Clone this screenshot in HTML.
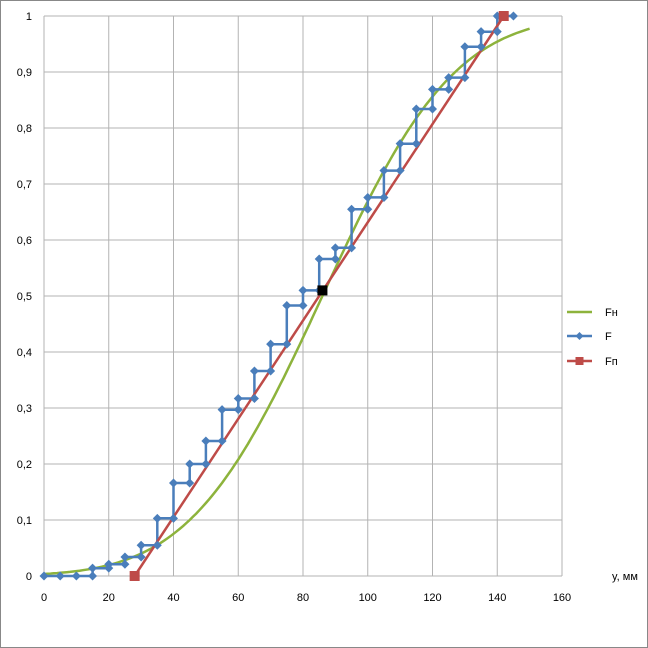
<!DOCTYPE html>
<html><head><meta charset="utf-8"><style>
html,body{margin:0;padding:0;background:#fff}
svg{display:block;font-family:"Liberation Sans",sans-serif}
</style></head><body>
<svg id="s" width="648" height="648" viewBox="0 0 648 648" xmlns="http://www.w3.org/2000/svg">
<rect x="0.5" y="0.5" width="647" height="647" fill="#fff" stroke="#888"/>
<g id="grid" stroke="#b3b3b3" stroke-width="1"></g>
<g id="lab" font-size="11" fill="#000"></g>
<text x="612" y="580" font-size="11">y, мм</text>
<g id="ser"></g>
<g font-size="11">
<line x1="567" y1="312" x2="592" y2="312" stroke="#8db33c" stroke-width="2.5"/>
<text x="605" y="316">Fн</text>
<line x1="567" y1="336" x2="592" y2="336" stroke="#4a7ebb" stroke-width="2.5"/>
<path d="M579.5 332 L583.5 336 L579.5 340 L575.5 336Z" fill="#4a7ebb"/>
<text x="605" y="340">F</text>
<line x1="567" y1="361" x2="592" y2="361" stroke="#be4b48" stroke-width="2.5"/>
<rect x="575.5" y="357" width="8" height="8" fill="#be4b48"/>
<text x="605" y="365">Fп</text>
</g>
</svg>
<script>
const X=v=>44+v*3.2375, Y=v=>576-v*560;
const NS="http://www.w3.org/2000/svg";
function el(p,t,a,txt){const e=document.createElementNS(NS,t);for(const k in a)e.setAttribute(k,a[k]);if(txt!==undefined)e.textContent=txt;p.appendChild(e);return e;}
const g=document.getElementById('grid'),lab=document.getElementById('lab'),ser=document.getElementById('ser');
for(let i=0;i<=8;i++){const x=X(i*20);el(g,'line',{x1:x,y1:16,x2:x,y2:576});el(lab,'text',{x:x,y:601,'text-anchor':'middle'},String(i*20));}
for(let i=0;i<=10;i++){const y=Y(i/10);el(g,'line',{x1:44,y1:y,x2:562,y2:y});el(lab,'text',{x:32,y:y+4,'text-anchor':'end'},i==0?'0':i==10?'1':'0,'+i);}
// normal CDF
function erf(x){const s=Math.sign(x);x=Math.abs(x);const t=1/(1+0.3275911*x);const y=1-(((((1.061405429*t-1.453152027)*t)+1.421413741)*t-0.284496736)*t+0.254829592)*t*Math.exp(-x*x);return s*y;}
let d='';for(let v=0;v<=150;v+=1){const f=0.5*(1+erf((v-86)/(32*Math.SQRT2)));d+=(v?'L':'M')+X(v).toFixed(1)+' '+Y(f).toFixed(1);}
el(ser,'path',{d:d,fill:'none',stroke:'#8db33c','stroke-width':2.5});
// step
const lv=[0,0,0,0.014,0.021,0.034,0.055,0.103,0.166,0.2,0.241,0.297,0.317,0.366,0.414,0.483,0.51,0.566,0.586,0.655,0.676,0.724,0.772,0.834,0.869,0.89,0.945,0.972,1.0];
let pts=[[0,0],[5,0],[10,0]];let prev=0;
for(let i=3;i<lv.length;i++){const x=i*5;pts.push([x,prev]);pts.push([x,lv[i]]);prev=lv[i];}
pts.push([145,1]);
el(ser,'path',{d:pts.map((p,i)=>(i?'L':'M')+X(p[0]).toFixed(1)+' '+Y(p[1]).toFixed(1)).join(''),fill:'none',stroke:'#4a7ebb','stroke-width':2.5});
// red
el(ser,'line',{x1:X(28),y1:Y(0),x2:X(142),y2:Y(1),stroke:'#be4b48','stroke-width':2.5});
for(const p of pts){const x=X(p[0]),y=Y(p[1]);el(ser,'path',{d:`M${x} ${y-4.5}L${x+4.5} ${y}L${x} ${y+4.5}L${x-4.5} ${y}Z`,fill:'#4a7ebb'});}
el(ser,'rect',{x:X(28)-5,y:Y(0)-5,width:10,height:10,fill:'#be4b48'});
el(ser,'rect',{x:X(142)-5,y:Y(1)-5,width:10,height:10,fill:'#be4b48'});
el(ser,'rect',{x:X(86)-5,y:Y(0.51)-5,width:10,height:10,fill:'#000'});
</script>
</body></html>
